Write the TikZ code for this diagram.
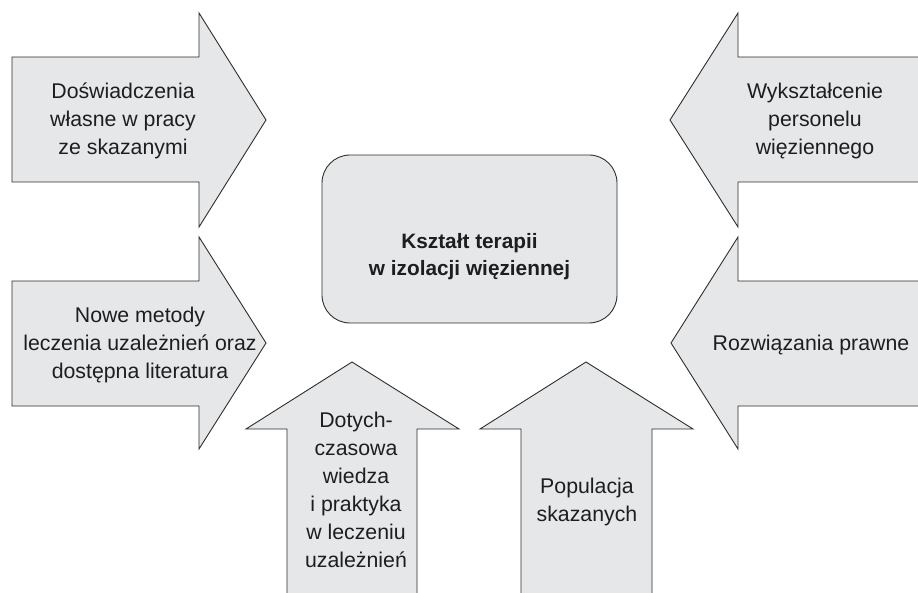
\documentclass[tikz,border=0pt]{standalone}
\usepackage{fontspec}
\setmainfont{Liberation Sans}
\definecolor{shapefill}{HTML}{E6E7E8}
\definecolor{shapeline}{HTML}{2E2E2E}
\definecolor{txt}{HTML}{1E1E1E}
\tikzset{
  shapebox/.style={fill=shapefill, draw=shapeline, line width=0.9pt, line join=miter},
  lbl/.style={align=center, text=txt, inner sep=0pt,
    font=\fontsize{21.3pt}{28pt}\selectfont},
  boldlbl/.style={align=center, text=txt, inner sep=0pt,
    font=\fontsize{20.8pt}{27pt}\selectfont\bfseries}
}
\begin{document}
\begin{tikzpicture}[x=1pt,y=-1pt]
\useasboundingbox (0,0) rectangle (918,593);
\clip (0,0) rectangle (918,593);
% left arrows
\draw[shapebox] (12,57) -- (199,57) -- (199,13) -- (266,120) -- (199,227) -- (199,182) -- (12,182) -- cycle;
\draw[shapebox] (12,281) -- (199,281) -- (199,237) -- (266,343) -- (199,449) -- (199,406) -- (12,406) -- cycle;
% right arrows
\draw[shapebox] (925,57) -- (738,57) -- (738,13) -- (670,120) -- (738,227) -- (738,182) -- (925,182);
\draw[shapebox] (925,281) -- (738,281) -- (738,237) -- (671,343) -- (738,449) -- (738,406) -- (925,406);
% up arrows
\draw[shapebox] (287,600) -- (287,429) -- (246,429) -- (352,362) -- (459,429) -- (417,429) -- (417,600);
\draw[shapebox] (521,600) -- (521,429) -- (480,429) -- (586,362) -- (693,429) -- (652,429) -- (652,600);
% center box
\node[shapebox, rounded corners=28pt, minimum width=295pt, minimum height=168pt, inner sep=0pt] (center) at (469.5,239) {};
\node[boldlbl] (centertext) at (469.5,257) {Kształt terapii\\w izolacji więziennej};
% labels
\node[lbl] (t1) at (123,121) {Doświadczenia\\własne w pracy\\ze skazanymi};
\node[lbl] (t2) at (140,345) {Nowe metody\\leczenia uzależnień oraz\\dostępna literatura};
\node[lbl] (t3) at (815,121) {Wykształcenie\\personelu\\więziennego};
\node[lbl] (t4) at (811,345) {Rozwiązania prawne};
\node[lbl] (t5) at (356,490) {Dotych-\\czasowa\\wiedza\\i praktyka\\w leczeniu\\uzależnień};
\node[lbl] (t6) at (587,502) {Populacja\\skazanych};
\end{tikzpicture}
\end{document}
